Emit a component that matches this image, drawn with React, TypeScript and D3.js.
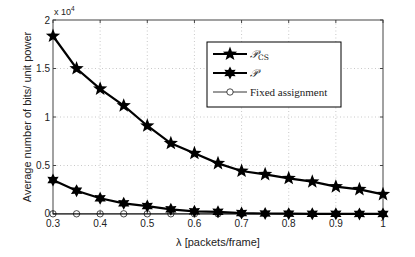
import * as d3 from "d3";

const lambdas = [0.3, 0.35, 0.4, 0.45, 0.5, 0.55, 0.6, 0.65, 0.7, 0.75, 0.8, 0.85, 0.9, 0.95, 1.0];
const pcsValues = [18350, 15000, 12900, 11170, 9100, 7290, 6260, 5220, 4430, 4090, 3680, 3330, 2820, 2540, 2030];
const pValues = [3500, 2400, 1620, 1100, 820, 480, 280, 220, 100, 50, 30, 20, 15, 10, 10];
const fixedValues = [20, 20, 20, 20, 20, 20, 20, 20, 20, 20, 20, 20, 20, 20, 20];
const xTicks = [0.3, 0.4, 0.5, 0.6, 0.7, 0.8, 0.9, 1];
const yTicks = [0, 5000, 10000, 15000, 20000];
const yTickLabels = ["0", "0.5", "1", "1.5", "2"];

const W = 415;
const H = 257;
const m = { left: 53, right: 32, top: 20, bottom: 43 };

function starPath(cx: number, cy: number, r: number, points: number, inner: number) {
  const pts: string[] = [];
  for (let i = 0; i < points * 2; i++) {
    const a = -Math.PI / 2 + (i * Math.PI) / points;
    const rr = i % 2 === 0 ? r : r * inner;
    pts.push(`${cx + rr * Math.cos(a)},${cy + rr * Math.sin(a)}`);
  }
  return `M${pts.join("L")}Z`;
}

export default function App() {
  const x = d3.scaleLinear().domain([0.3, 1]).range([m.left, W - m.right]);
  const y = d3.scaleLinear().domain([0, 20000]).range([H - m.bottom, m.top]);
  const line = d3
    .line<number>()
    .x((_, i) => x(lambdas[i]))
    .y((v) => y(v));
  const font = "Helvetica, Arial, 'Liberation Sans', sans-serif";
  const axisColor = "#444";

  const legX = 207;
  const legY = 42;
  const rows = [54, 73, 92];

  return (
    <svg width={W} height={H} style={{ position: "absolute", left: 0, top: 0, background: "#fff" }}>
      {/* grid */}
      {xTicks.slice(1, -1).map((t) => (
        <line key={"gx" + t} x1={x(t)} x2={x(t)} y1={y(20000)} y2={y(0)} stroke="#bbb" strokeWidth={0.8} strokeDasharray="1,2.5" />
      ))}
      {yTicks.slice(1, -1).map((t) => (
        <line key={"gy" + t} x1={m.left} x2={W - m.right} y1={y(t)} y2={y(t)} stroke="#bbb" strokeWidth={0.8} strokeDasharray="1,2.5" />
      ))}
      {/* axes box */}
      <rect x={m.left} y={m.top} width={W - m.left - m.right} height={H - m.top - m.bottom} fill="none" stroke={axisColor} strokeWidth={1} />
      {xTicks.map((t) => (
        <g key={"tx" + t}>
          <line x1={x(t)} x2={x(t)} y1={y(0)} y2={y(0) - 3} stroke={axisColor} />
          <line x1={x(t)} x2={x(t)} y1={y(20000)} y2={y(20000) + 3} stroke={axisColor} />
          <text x={x(t)} y={y(0) + 13} fontSize={10} fontFamily={font} textAnchor="middle" fill="#222">
            {t}
          </text>
        </g>
      ))}
      {yTicks.map((t, i) => (
        <g key={"ty" + t}>
          <line x1={m.left} x2={m.left + 3} y1={y(t)} y2={y(t)} stroke={axisColor} />
          <line x1={W - m.right} x2={W - m.right - 3} y1={y(t)} y2={y(t)} stroke={axisColor} />
          <text x={m.left - 3} y={y(t) + (i === 0 ? 2.5 : 3.5)} fontSize={10} fontFamily={font} textAnchor="end" fill="#222">
            {yTickLabels[i]}
          </text>
        </g>
      ))}
      <text x={54} y={15} fontSize={9} fontFamily={font} fill="#222">
        x 10
        <tspan dy={-4} fontSize={6.5}>4</tspan>
      </text>
      <text x={218} y={246} fontSize={11} fontFamily={font} textAnchor="middle" fill="#222">
        λ [packets/frame]
      </text>
      <text transform={`translate(31,${(m.top + H - m.bottom) / 2}) rotate(-90)`} fontSize={11} fontFamily={font} textAnchor="middle" fill="#222">
        Average number of bits/ unit power
      </text>

      {/* series */}
      <path d={line(fixedValues) || ""} fill="none" stroke="#000" strokeWidth={0.8} />
      {fixedValues.map((v, i) => (
        <circle key={"f" + i} cx={x(lambdas[i])} cy={y(v)} r={3.2} fill="none" stroke="#000" strokeWidth={0.7} />
      ))}
      <path d={line(pValues) || ""} fill="none" stroke="#000" strokeWidth={2.2} />
      {pValues.map((v, i) => (
        <path key={"p" + i} d={starPath(x(lambdas[i]), y(v), 6.5, 6, 0.55)} fill="#000" />
      ))}
      <path d={line(pcsValues) || ""} fill="none" stroke="#000" strokeWidth={2.2} />
      {pcsValues.map((v, i) => (
        <path key={"c" + i} d={starPath(x(lambdas[i]), y(v), 7.5, 5, 0.42)} fill="#000" />
      ))}

      {/* legend */}
      <rect x={legX} y={legY} width={134} height={65} fill="#fff" stroke="#000" strokeWidth={1} />
      <line x1={213} x2={247} y1={rows[0]} y2={rows[0]} stroke="#000" strokeWidth={2.2} />
      <path d={starPath(230, rows[0], 7.5, 5, 0.42)} fill="#000" />
      <line x1={213} x2={247} y1={rows[1]} y2={rows[1]} stroke="#000" strokeWidth={2.2} />
      <path d={starPath(230, rows[1], 6.5, 6, 0.55)} fill="#000" />
      <line x1={213} x2={247} y1={rows[2]} y2={rows[2]} stroke="#000" strokeWidth={0.8} />
      <circle cx={230} cy={rows[2]} r={3.2} fill="#fff" stroke="#000" strokeWidth={0.7} />
      <text x={250} y={rows[0] + 4} fontSize={11} fontFamily="'DejaVu Serif', serif" fontStyle="italic" fill="#222">
        𝒫<tspan fontSize={7.5} fontStyle="normal" dy={1.5}>CS</tspan>
      </text>
      <text x={250} y={rows[1] + 4} fontSize={11} fontFamily="'DejaVu Serif', serif" fontStyle="italic" fill="#222">
        𝒫
      </text>
      <text x={250} y={rows[2] + 3.5} fontSize={11} fontFamily="'Liberation Serif', serif" fill="#222">
        Fixed assignment
      </text>
    </svg>
  );
}
